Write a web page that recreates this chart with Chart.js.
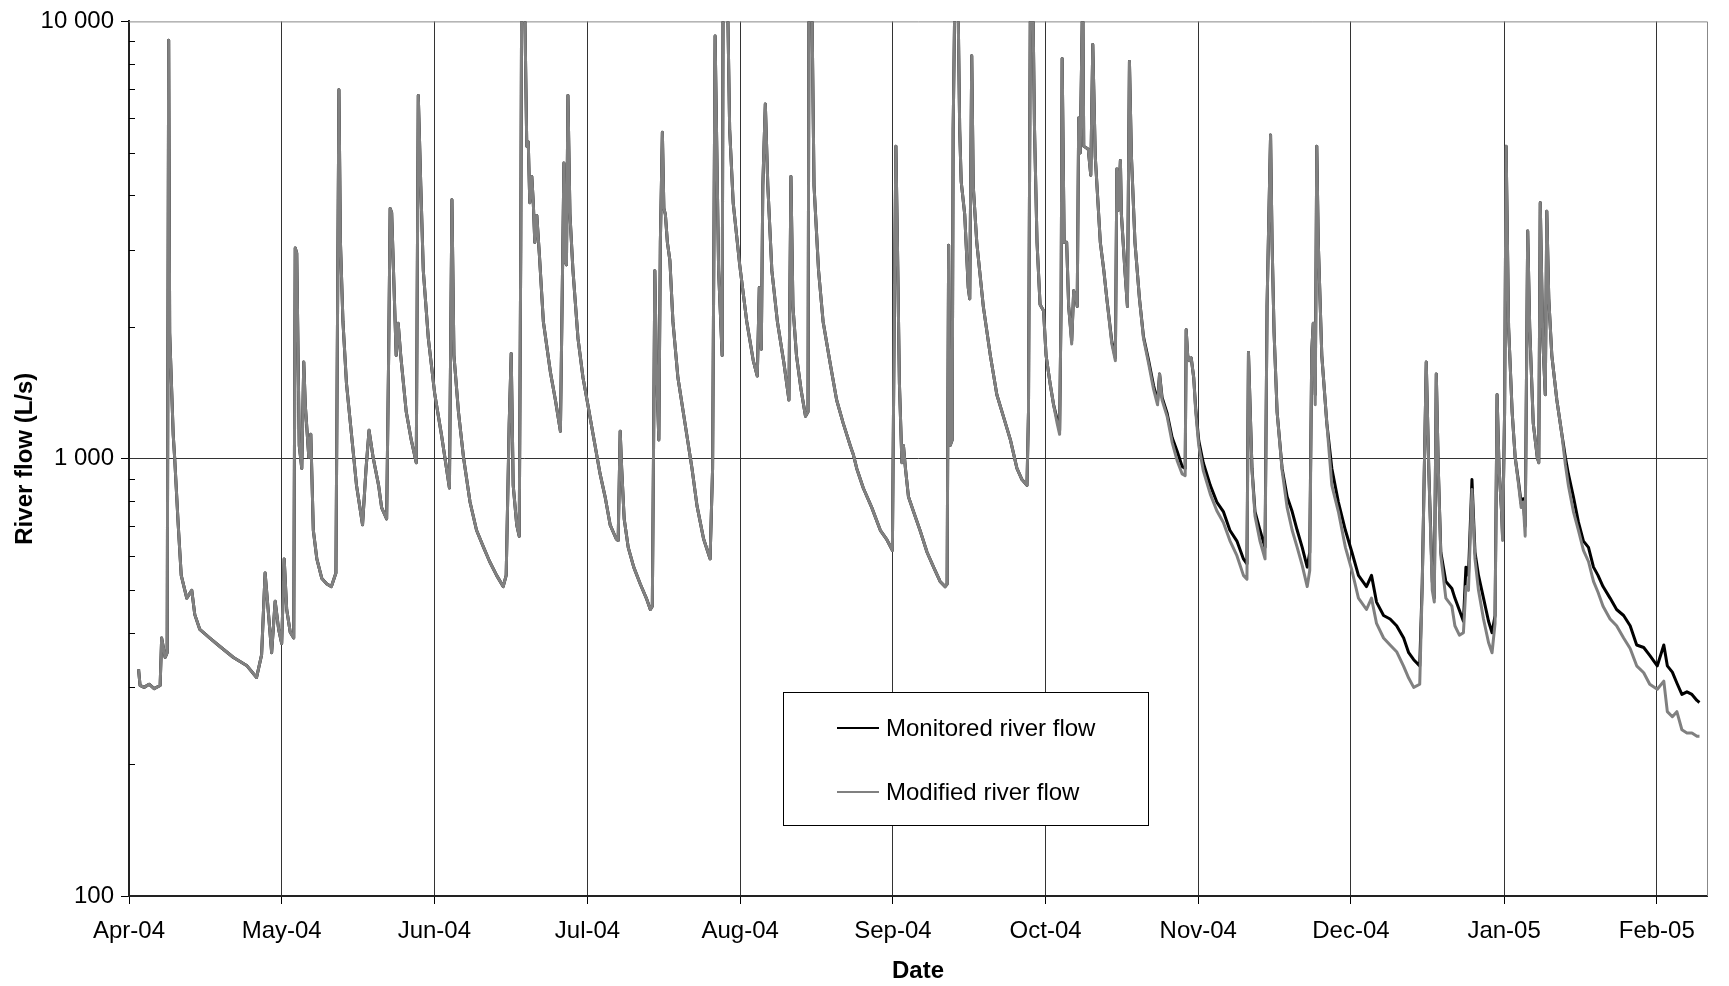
<!DOCTYPE html>
<html lang="en">
<head>
<meta charset="utf-8">
<title>River flow</title>
<script src="https://cdn.jsdelivr.net/npm/chart.js@4.4.1/dist/chart.umd.min.js"></script>
<style>
  html, body { margin: 0; padding: 0; background: #ffffff; overflow: hidden; }
  canvas { display: block; }
</style>
</head>
<body>
<canvas id="flowChart" width="1729" height="986"></canvas>
<script>
// x = days since 1 April 2004, y = river flow in L/s
const monthLabels = ["Apr-04", "May-04", "Jun-04", "Jul-04", "Aug-04", "Sep-04",
  "Oct-04", "Nov-04", "Dec-04", "Jan-05", "Feb-05"];
const monthTicks = [0, 30.4, 60.8, 91.3, 121.7, 152.1, 182.5, 212.9, 243.3, 273.8, 304.2];
const flowTicks = [100, 1000, 10000];
const minorFlowTicks = [200, 300, 400, 500, 600, 700, 800, 900,
  2000, 3000, 4000, 5000, 6000, 7000, 8000, 9000];

// both records are identical until the start of October
const sharedFlow = [
  [1.9, 330], [2.2, 303], [3.0, 300], [4.0, 305], [5.0, 298], [6.2, 303], [6.5, 389], [7.2, 351],
  [7.6, 360], [7.9, 9060], [8.1, 1941], [8.8, 1137], [9.1, 1000], [9.8, 706], [10.4, 541], [11.5, 480],
  [12.5, 500], [13.1, 440], [14.1, 407], [16.1, 389], [18.1, 372], [20.8, 351], [23.5, 336], [25.4, 316],
  [26.4, 356], [27.1, 548], [27.8, 438], [28.4, 360], [29.1, 472], [29.8, 407], [30.4, 378], [30.9, 590],
  [31.4, 452], [32.1, 401], [32.8, 389], [33.1, 3033], [33.4, 2950], [33.9, 1072], [34.4, 950], [34.8, 1663],
  [35.1, 1328], [35.8, 1008], [36.2, 1137], [36.7, 686], [37.4, 590], [38.4, 532], [39.4, 517],
  [40.3, 510], [41.2, 548], [41.8, 6980], [42.1, 3124], [42.6, 2060], [43.3, 1486], [44.3, 1137], [45.3, 869],
  [46.5, 706], [47.2, 950], [47.8, 1161], [48.6, 1008], [49.7, 869], [50.3, 773], [51.3, 728], [51.7, 1723],
  [52.0, 3735], [52.3, 3650], [53.2, 1723], [53.6, 2040], [54.1, 1723], [55.2, 1280], [56.2, 1104], [57.2, 979],
  [57.6, 6770], [58.1, 4206], [58.6, 2692], [59.6, 1884], [60.9, 1400], [62.2, 1137], [63.8, 857], [64.3, 3908],
  [64.7, 1723], [65.6, 1280], [66.6, 1008], [67.9, 796], [69.2, 686], [70.6, 627], [71.8, 582], [73.2, 541],
  [74.5, 510], [75.1, 541], [75.7, 1200], [76.1, 1740], [76.5, 869], [77.2, 706], [77.7, 665], [78.0, 3000],
  [78.2, 13000], [78.7, 13000], [79.2, 5185], [79.5, 5300], [79.8, 3848], [80.2, 4420], [80.5, 3848], [80.8, 3124],
  [81.2, 3600], [81.7, 2945], [82.5, 2060], [83.9, 1578], [84.9, 1362], [85.9, 1156], [86.1, 1723], [86.6, 4742],
  [86.8, 2840], [87.1, 2775], [87.4, 6770], [87.8, 3620], [88.4, 2692], [89.4, 1884], [90.4, 1531], [91.2, 1362],
  [92.4, 1137], [93.8, 923], [94.8, 818], [95.8, 706], [97.0, 656], [97.4, 650], [97.8, 1156], [98.1, 950],
  [98.6, 728], [99.4, 627], [100.5, 565], [101.8, 517], [103.0, 480], [103.8, 452], [104.2, 460], [104.5, 1280],
  [104.7, 2692], [105.0, 1655], [105.5, 1104], [105.8, 3124], [106.2, 5580], [106.5, 3735], [106.8, 3620], [107.2, 3124],
  [107.7, 2840], [108.3, 2060], [109.3, 1531], [110.7, 1206], [112.1, 950], [113.1, 780], [114.4, 656], [115.7, 590],
  [116.2, 950], [116.7, 9260], [117.4, 2692], [118.1, 1723], [118.3, 13000], [119.1, 13000], [119.6, 5663], [120.3, 3848],
  [121.6, 2775], [123.0, 2060], [124.3, 1676], [125.1, 1545], [125.5, 2464], [125.9, 1780], [126.2, 4206], [126.7, 6477],
  [127.2, 4206], [128.0, 2692], [129.1, 2060], [130.4, 1655], [131.4, 1362], [131.8, 4420], [132.2, 2230], [132.9, 1723],
  [133.8, 1442], [134.7, 1250], [135.2, 1280], [135.4, 13000], [135.9, 13000], [136.4, 4206], [137.3, 2692], [138.2, 2060],
  [139.6, 1655], [140.9, 1362], [142.2, 1206], [143.6, 1072], [144.2, 1024], [144.9, 950], [146.2, 857], [147.9, 773],
  [149.6, 686], [150.8, 656], [152.0, 617], [152.4, 2320], [152.7, 5185], [153.0, 3124], [153.4, 1486], [153.9, 979],
  [154.2, 1072], [154.6, 950], [155.2, 818], [156.2, 757], [157.5, 686], [158.9, 611], [160.2, 565], [161.5, 524],
  [162.5, 510], [162.9, 517], [163.2, 3076], [163.5, 1072], [163.9, 1104], [164.1, 5663], [164.5, 13000], [165.0, 13000],
  [165.4, 5663], [165.7, 4300], [166.4, 3620], [167.1, 2464], [167.4, 2320], [167.8, 8340], [168.1, 4206], [168.8, 3124],
  [170.1, 2230], [171.5, 1723], [172.8, 1400], [174.1, 1250], [175.5, 1104], [176.8, 950], [177.8, 896], [178.8, 869],
  [179.1, 1280], [179.5, 13000], [179.9, 13000], [180.3, 5663], [180.8, 3124], [181.4, 2253], [182.1, 2180], [182.6, 1723],
  [183.4, 1486], [184.1, 1328]
];

const monitoredFromOct = [
  [184.8, 1230], [185.3, 1160], [185.6, 2320], [185.8, 8220], [186.2, 3124], [186.7, 3124], [187.1, 2230], [187.7, 1860],
  [188.1, 2420], [188.6, 2320], [188.8, 2230], [189.1, 6010], [189.4, 5000], [189.9, 12000], [190.1, 5185], [191.0, 5100],
  [191.5, 4450], [191.9, 8850], [192.4, 4900], [193.4, 3124], [194.1, 2692], [194.7, 2320], [195.7, 1850], [196.4, 1700],
  [196.7, 4600], [197.0, 3700], [197.4, 4810], [197.6, 3620], [198.3, 2692], [198.8, 2230], [199.2, 8095], [199.6, 4900],
  [200.3, 3124], [201.2, 2320], [202.0, 1900], [203.0, 1680], [204.0, 1470], [204.8, 1350], [205.2, 1563], [205.7, 1380],
  [206.7, 1270], [207.7, 1118], [208.7, 1040], [209.7, 960], [210.3, 950], [210.5, 1971], [210.8, 1723], [211.1, 1676],
  [211.5, 1700], [212.0, 1531], [212.4, 1300], [213.0, 1100], [213.9, 979], [215.3, 869], [216.6, 796], [217.9, 757],
  [219.2, 686], [220.6, 648], [221.9, 590], [222.6, 575], [222.9, 1750], [223.6, 950], [224.2, 757], [225.2, 686],
  [226.2, 627], [226.6, 2230], [226.9, 3317], [227.3, 5500], [227.6, 3124], [228.0, 1941], [228.6, 1280], [229.6, 950],
  [230.6, 818], [231.6, 757], [232.6, 686], [233.6, 627], [234.6, 565], [235.1, 611], [235.5, 1760], [235.8, 2040],
  [236.2, 1400], [236.5, 5185], [236.8, 3124], [237.5, 1723], [238.5, 1206], [239.5, 950], [240.8, 796], [242.2, 686],
  [243.5, 611], [244.8, 541], [246.4, 510], [247.4, 541], [248.4, 470], [249.8, 438], [251.1, 430], [252.4, 415],
  [253.8, 389], [254.8, 360], [255.8, 347], [257.0, 336], [257.5, 520], [257.8, 800], [258.3, 1663], [258.8, 950],
  [259.5, 524], [259.9, 480], [260.3, 1563], [260.7, 950], [261.2, 611], [262.2, 524], [263.4, 505], [264.0, 480],
  [264.9, 450], [265.7, 425], [266.2, 565], [266.7, 541], [267.4, 896], [268.0, 611], [268.7, 541], [269.7, 480],
  [270.7, 425], [271.4, 400], [272.0, 438], [272.4, 1400], [272.8, 950], [273.3, 757], [273.5, 660], [273.9, 1280],
  [274.2, 5185], [274.7, 1996], [275.4, 1280], [276.0, 1008], [276.7, 880], [277.2, 790], [277.6, 810], [278.0, 700],
  [278.2, 1280], [278.5, 3317], [278.9, 1996], [279.6, 1206], [280.4, 1008], [280.7, 979], [281.0, 3848], [281.5, 1884],
  [282.0, 1400], [282.3, 3680], [282.7, 2320], [283.3, 1723], [284.3, 1362], [285.3, 1137], [286.0, 1008], [286.6, 923],
  [287.6, 818], [288.6, 716], [289.6, 648], [290.6, 627], [291.6, 565], [292.5, 541], [293.5, 510], [294.9, 480],
  [296.2, 452], [297.6, 438], [298.9, 415], [300.2, 375], [301.6, 370], [302.8, 355], [304.3, 336], [305.6, 375],
  [306.3, 336], [307.3, 325], [308.2, 307], [309.2, 289], [310.2, 293], [311.2, 289], [312.2, 280], [312.7, 277]
];

const modifiedFromOct = [
  [184.8, 1206], [185.3, 1137], [185.6, 2320], [185.8, 8220], [186.2, 3124], [186.7, 3124], [187.1, 2230], [187.7, 1829],
  [188.1, 2420], [188.6, 2320], [188.8, 2230], [189.1, 6010], [189.4, 5000], [189.9, 12000], [190.1, 5185], [191.0, 5100],
  [191.5, 4450], [191.9, 8850], [192.4, 4900], [193.4, 3124], [194.1, 2692], [194.7, 2320], [195.7, 1829], [196.4, 1676],
  [196.7, 4600], [197.0, 3700], [197.4, 4810], [197.6, 3620], [198.3, 2692], [198.8, 2230], [199.2, 8095], [199.6, 4900],
  [200.3, 3124], [201.2, 2320], [202.0, 1884], [203.0, 1655], [204.0, 1442], [204.8, 1328], [205.2, 1563], [205.7, 1362],
  [206.7, 1250], [207.7, 1090], [208.7, 990], [209.7, 923], [210.3, 915], [210.5, 1971], [210.8, 1723], [211.1, 1676],
  [211.5, 1700], [212.0, 1531], [212.4, 1280], [213.0, 1072], [213.9, 940], [215.3, 830], [216.6, 760], [217.9, 715],
  [219.2, 650], [220.6, 600], [221.9, 541], [222.6, 530], [222.9, 1750], [223.6, 940], [224.2, 740], [225.2, 648],
  [226.2, 590], [226.6, 2230], [226.9, 3317], [227.3, 5500], [227.6, 3124], [228.0, 1941], [228.6, 1280], [229.6, 940],
  [230.6, 773], [231.6, 686], [232.6, 627], [233.6, 570], [234.6, 510], [235.1, 555], [235.5, 1760], [235.8, 2040],
  [236.2, 1328], [236.5, 5185], [236.8, 3124], [237.5, 1723], [238.5, 1206], [239.5, 869], [240.8, 757], [242.2, 627],
  [243.5, 555], [244.8, 480], [246.4, 452], [247.4, 480], [248.4, 420], [249.8, 389], [251.1, 375], [252.4, 362],
  [253.8, 335], [254.8, 315], [255.8, 300], [257.0, 305], [257.5, 510], [257.8, 795], [258.3, 1663], [258.8, 950],
  [259.5, 500], [259.9, 470], [260.3, 1563], [260.7, 950], [261.2, 600], [262.2, 480], [263.4, 460], [264.0, 415],
  [264.9, 395], [265.7, 400], [266.2, 510], [266.7, 500], [267.4, 850], [268.0, 590], [268.7, 500], [269.7, 430],
  [270.7, 380], [271.4, 360], [272.0, 420], [272.4, 1400], [272.8, 950], [273.3, 757], [273.5, 650], [273.9, 1280],
  [274.2, 5185], [274.7, 1996], [275.4, 1280], [276.0, 1008], [276.7, 869], [277.2, 773], [277.6, 796], [278.0, 665],
  [278.2, 1280], [278.5, 3317], [278.9, 1996], [279.6, 1206], [280.4, 1008], [280.7, 979], [281.0, 3848], [281.5, 1884],
  [282.0, 1400], [282.3, 3680], [282.7, 2320], [283.3, 1723], [284.3, 1362], [285.3, 1137], [286.0, 970], [286.6, 869],
  [287.6, 757], [288.6, 686], [289.6, 617], [290.6, 582], [291.6, 524], [292.5, 495], [293.5, 460], [294.9, 430],
  [296.2, 415], [297.6, 389], [298.9, 368], [300.2, 336], [301.6, 324], [302.8, 305], [304.3, 297], [305.6, 310],
  [306.3, 264], [307.3, 257], [308.2, 264], [309.2, 240], [310.2, 236], [311.2, 236], [312.2, 232], [312.7, 232]
];

const monitoredFlow = sharedFlow.concat(monitoredFromOct);
const modifiedFlow = sharedFlow.concat(modifiedFromOct);

const toPoints = rows => rows.map(([x, y]) => ({ x, y }));
const spaced = v => String(v).replace(/\B(?=(\d{3})+(?!\d))/g, " ");

Chart.defaults.font.family = '"Liberation Sans", Arial, sans-serif';
Chart.defaults.color = "#000";

// plot frame, inward minor ticks on the flow axis, and the boxed legend
const chartExtras = {
  id: "chartExtras",
  beforeDatasetsDraw(chart) {
    const { ctx, chartArea: a, scales: { y } } = chart;
    ctx.save();
    ctx.lineWidth = 1;
    ctx.strokeStyle = "#888";
    ctx.beginPath();
    ctx.moveTo(a.left, a.top + 0.5);
    ctx.lineTo(a.right + 0.5, a.top + 0.5);
    ctx.lineTo(a.right + 0.5, a.bottom);
    ctx.stroke();

    ctx.strokeStyle = "#000";
    ctx.beginPath();
    minorFlowTicks.forEach(v => {
      const py = Math.round(y.getPixelForValue(v)) + 0.5;
      ctx.moveTo(a.left, py);
      ctx.lineTo(a.left + 6, py);
    });
    ctx.stroke();
    ctx.restore();
  },
  afterDraw(chart) {
    const { ctx } = chart;
    const box = { x: 783, y: 692, w: 365, h: 133 };
    ctx.save();
    ctx.fillStyle = "#fff";
    ctx.fillRect(box.x, box.y, box.w, box.h);
    ctx.strokeStyle = "#000";
    ctx.lineWidth = 1;
    ctx.strokeRect(box.x + 0.5, box.y + 0.5, box.w, box.h);

    const rows = [chart.data.datasets[0], chart.data.datasets[1]];
    ctx.font = '24px "Liberation Sans", Arial, sans-serif';
    ctx.textBaseline = "middle";
    rows.forEach((ds, i) => {
      const ly = box.y + 36 + i * 64;
      ctx.strokeStyle = ds.borderColor;
      ctx.lineWidth = 2;
      ctx.beginPath();
      ctx.moveTo(box.x + 54, ly);
      ctx.lineTo(box.x + 96, ly);
      ctx.stroke();
      ctx.fillStyle = "#000";
      ctx.fillText(ds.label, box.x + 103, ly + 1);
    });
    ctx.restore();
  }
};

new Chart(document.getElementById("flowChart"), {
  type: "line",
  data: {
    datasets: [
      {
        label: "Monitored river flow",
        data: toPoints(monitoredFlow),
        borderColor: "#000000",
        borderWidth: 3,
        pointRadius: 0,
        borderJoinStyle: "round",
        order: 1
      },
      {
        label: "Modified river flow",
        data: toPoints(modifiedFlow),
        borderColor: "#808080",
        borderWidth: 3,
        pointRadius: 0,
        borderJoinStyle: "round",
        order: 0
      }
    ]
  },
  options: {
    responsive: false,
    animation: false,
    layout: { padding: { top: 20, right: 22, left: 0, bottom: 0 } },
    plugins: {
      legend: { display: false },
      tooltip: { enabled: false }
    },
    scales: {
      x: {
        type: "linear",
        min: 0,
        max: 314.2,
        afterBuildTicks: scale => { scale.ticks = monthTicks.map(v => ({ value: v })); },
        afterFit: scale => { scale.height = 90; },
        ticks: {
          autoSkip: false,
          maxRotation: 0,
          padding: 13,
          font: { size: 24 },
          callback: (value, index) => monthLabels[index]
        },
        grid: { color: "#333", lineWidth: 1, tickLength: 8, tickColor: "#000" },
        border: { color: "#222", width: 2 },
        title: {
          display: true,
          text: "Date",
          font: { size: 24, weight: "bold" },
          padding: { top: 0, bottom: 0 }
        }
      },
      y: {
        type: "logarithmic",
        min: 100,
        max: 10000,
        afterBuildTicks: scale => { scale.ticks = flowTicks.map(v => ({ value: v })); },
        afterFit: scale => { scale.width = 129; },
        ticks: {
          padding: 7,
          font: { size: 24 },
          callback: value => spaced(value)
        },
        grid: {
          color: c => (c.tick && c.tick.value === 1000 ? "#333" : "rgba(0,0,0,0)"),
          lineWidth: 1,
          tickLength: 8,
          tickColor: "#000"
        },
        border: { color: "#222", width: 2 },
        title: {
          display: true,
          text: "River flow (L/s)",
          font: { size: 24, weight: "bold" },
          padding: { top: 11, bottom: 0 }
        }
      }
    }
  },
  plugins: [chartExtras]
});
</script>
</body>
</html>
